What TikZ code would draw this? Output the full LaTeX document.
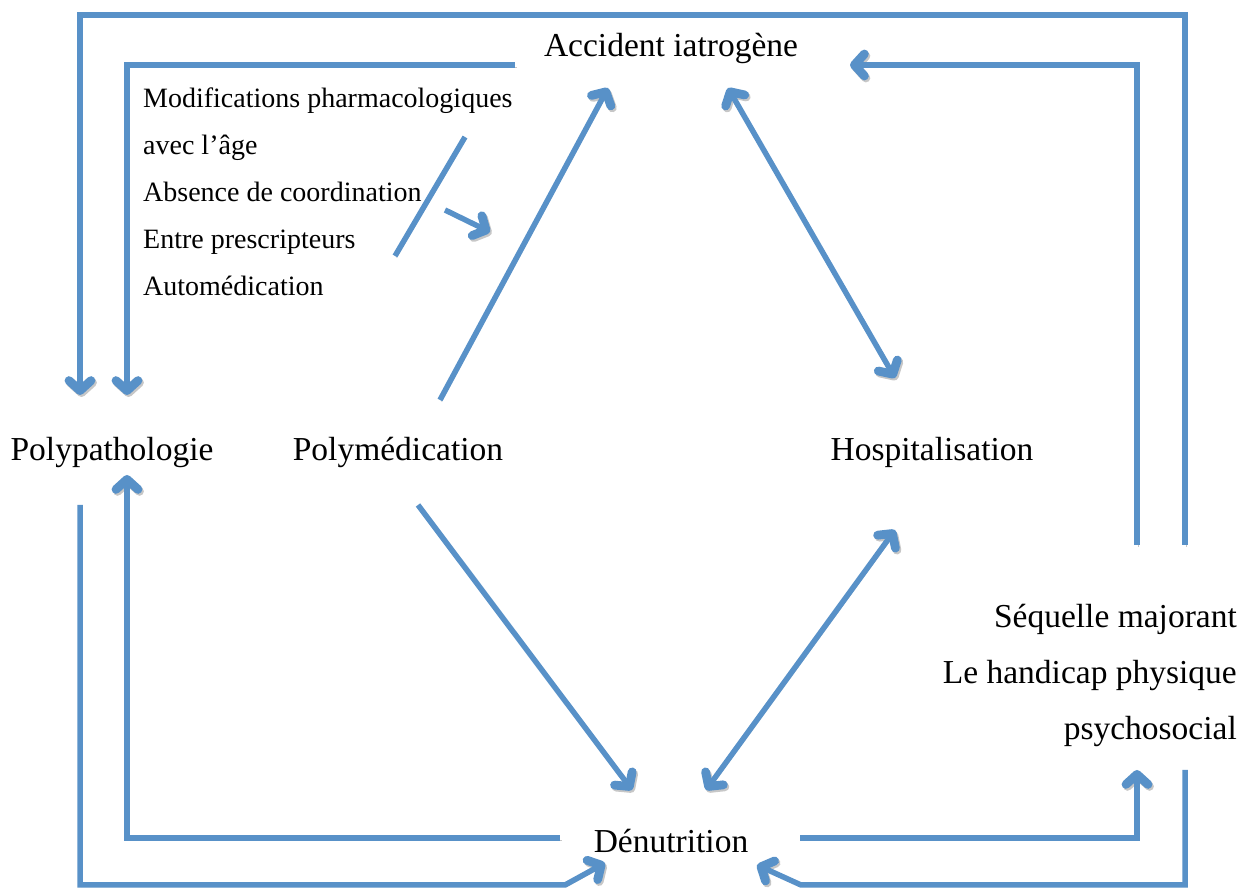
\documentclass[tikz,border=0pt]{standalone}
\usepackage{fontspec}
\setmainfont{Liberation Serif}
\usepackage{tikz}
\usetikzlibrary{calc, arrows.meta}
\definecolor{fleuve}{RGB}{88,145,200}
\tikzset{
	flux/.style={draw=fleuve, line width=5.5pt, line join=miter,
		preaction={draw=black, opacity=0.22, transform canvas={shift={(1.5pt,-2pt)}}}},
	etiq/.style={anchor=base, inner sep=0pt, font=\fontsize{33.5}{40}\selectfont},
	liste/.style={anchor=base west, inner sep=0pt, font=\fontsize{28}{34}\selectfont},
	sequelle/.style={anchor=base east, inner sep=0pt, font=\fontsize{33.5}{40}\selectfont},
	>={Straight Barb[length=10pt, width=22pt, line width=0pt 1.6, round]}
}

\begin{document}
\begin{tikzpicture}[x=1pt, y=1pt]
	\useasboundingbox (0,0) rectangle (1250,890);

% NOEUDS
	\node[etiq] (acc) at (671,833) {Accident iatrogène};
	\node[etiq] (polypath) at (112,429) {Polypathologie};
	\node[etiq] (polymed) at (398,429) {Polymédication};
	\node[etiq] (hosp) at (932,429) {Hospitalisation};
	\node[etiq] (denut) at (671,37) {Dénutrition};

	% facteurs
	\foreach \txt [count=\i] in {Modifications pharmacologiques, avec l’âge, Absence de coordination, Entre prescripteurs, Automédication}
		\node[liste] (mod\i) at (143,{829-47*\i}) {\txt};

	% sequelle
	\foreach \txt [count=\i] in {Séquelle majorant, Le handicap physique, psychosocial}
		\node[sequelle] (seq\i) at (1237,{318-56*\i}) {\txt};

% BOUCLES
	% haut
	\draw[flux, ->] ($(seq1.base east)+(-52,83)$) -- ++(0,530) -| ($(polypath.base)+(-32,66)$);
	\draw[flux, ->] ($(acc.base)+(-156,-8)$) -| ($(polypath.base)+(15,66)$);
	\draw[flux, ->] ($(seq1.base east)+(-100,83)$) |- ($(acc.base)+(179,-8)$);

	% bas
	\draw[flux, ->] ($(denut.base)+(-111,15)$) -| ($(polypath.base)+(15,-14)$);
	\draw[flux, ->] ($(polypath.base)+(-32,-44)$) |- ($(denut.base)+(-106,-32)$) -- ($(denut.base)+(-66,-10)$);
	\draw[flux, ->] ($(denut.base)+(129,15)$) -| ($(seq3.base east)+(-100,-30)$);
	\draw[flux, ->] ($(seq3.base east)+(-52,-30)$) |- ($(denut.base)+(130,-32)$) -- ($(denut.base)+(86,-12)$);

% DIAGONALES
	\draw[flux, ->] ($(polymed.base)+(42,61)$) -- ($(acc.base)+(-63,-31)$);
	\draw[flux, <->] ($(acc.base)+(57,-31)$) -- ($(hosp.base)+(-37,83)$);
	\draw[flux, ->] ($(polymed.base)+(20,-44)$) -- ($(denut.base)+(-39,63)$);
	\draw[flux, <->] ($(hosp.base)+(-37,-69)$) -- ($(denut.base)+(35,63)$);

	% barre et fleche des facteurs
	\draw[flux] ($(mod2.base west)+(322,18)$) -- ($(mod4.base west)+(252,-7)$);
	\draw[flux, ->] ($(mod3.base west)+(302,-8)$) -- ($(mod3.base west)+(347,-30)$);

\end{tikzpicture}
\end{document}
